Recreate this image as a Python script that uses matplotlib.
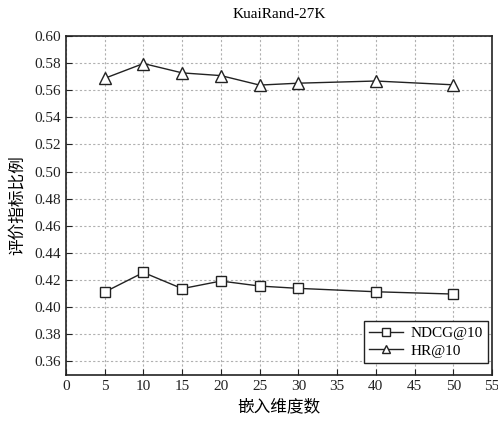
import numpy as np
import matplotlib
matplotlib.use("Agg")
from matplotlib import pyplot as plt

plt.rcParams['font.family'] = ['Liberation Serif', 'Noto Sans CJK SC']

# Datos
dims = [5, 10, 15, 20, 25, 30, 40, 50]
ndcg = [0.4112, 0.4256, 0.4137, 0.4193, 0.4156, 0.4139, 0.4114, 0.4097]
hr = [0.5688, 0.5797, 0.5728, 0.5708, 0.5638, 0.5652, 0.5668, 0.5640]

x_ticks = list(range(0, 56, 5))
y_ticks = [0.36, 0.38, 0.40, 0.42, 0.44, 0.46, 0.48, 0.50, 0.52, 0.54, 0.56, 0.58, 0.60]

fig = plt.figure(figsize=(4.98, 4.25), dpi=100)
ax = fig.add_axes([0.1325, 0.1176, 0.8555, 0.7977])

ax.plot(dims, ndcg, color='#222222', lw=1.0, marker='s', ms=7, mfc='white', mec='#222222', mew=1.0, label='NDCG@10')
ax.plot(dims, hr, color='#222222', lw=1.0, marker='^', ms=8, mfc='white', mec='#222222', mew=1.0, label='HR@10')

ax.set_xlim(0, 55)
ax.set_ylim(0.35, 0.60)
ax.set_xticks(x_ticks)
ax.set_yticks(y_ticks)
ax.set_yticklabels(['%.2f' % v for v in y_ticks])
ax.tick_params(direction='in', labelsize=11, length=4, top=False, right=False, colors='#222222')
ax.grid(True, linestyle=(0, (2, 2)), color='#b0b0b0', lw=0.8)
for s in ax.spines.values():
    s.set_linewidth(1.2)
    s.set_color('#222222')

ax.set_title('KuaiRand-27K', fontsize=11, pad=13)
ax.set_xlabel('嵌入维度数', fontsize=12, family=['Noto Sans CJK SC'])
ax.set_ylabel('评价指标比例', fontsize=12, family=['Noto Sans CJK SC'], labelpad=6)

leg = ax.legend(loc='lower right', bbox_to_anchor=(0.9906, 0.0354), borderaxespad=0,
                fontsize=11, fancybox=False, framealpha=1, edgecolor='#222222', markerscale=0.75,
                handlelength=2.2, handletextpad=0.5, borderpad=0.35, labelspacing=0.25)
leg.get_frame().set_linewidth(1.0)

fig.savefig('out.png', dpi=100)
